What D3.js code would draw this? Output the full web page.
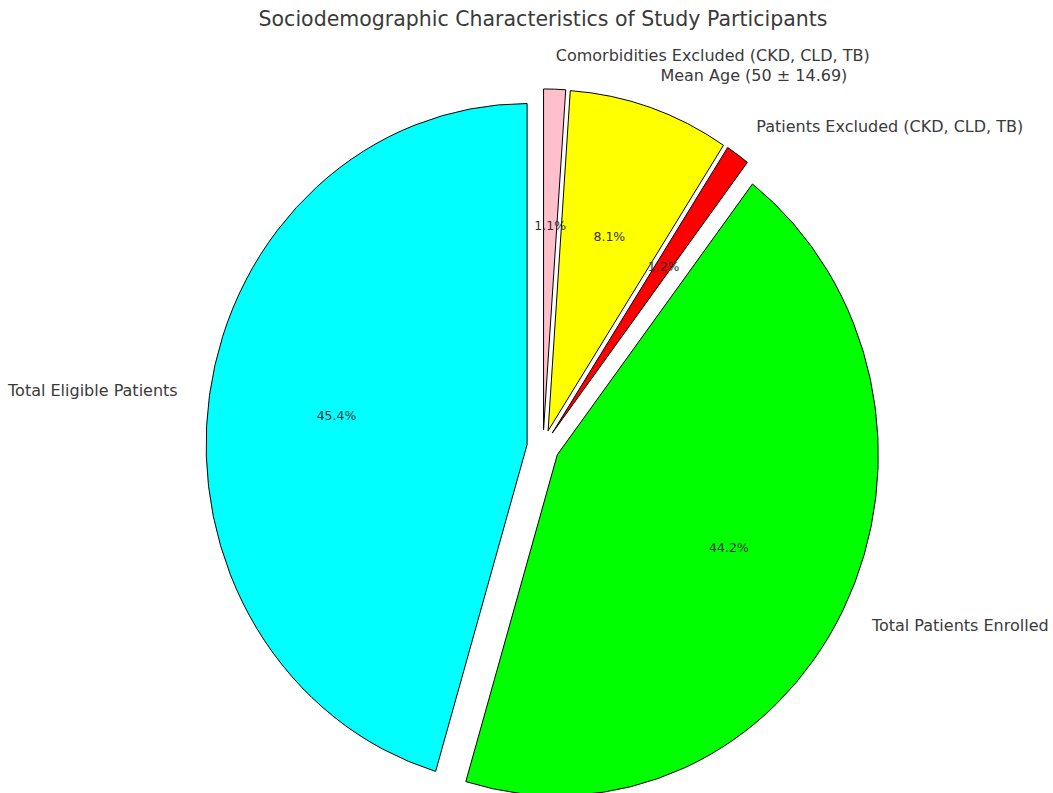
<!DOCTYPE html>
<html>
<head>
<meta charset="utf-8">
<script src="https://cdn.jsdelivr.net/npm/d3@7"></script>
<style>
  html, body { margin: 0; padding: 0; background: #fff; }
  svg { display: block; }
  text { font-family: "DejaVu Sans", sans-serif; }
</style>
</head>
<body>
<svg id="chart" width="1053" height="793"></svg>
<script>
// ---- data ----
const categories = [
  "Total Eligible Patients",
  "Total Patients Enrolled",
  "Patients Excluded (CKD, CLD, TB)",
  "Mean Age (50 ± 14.69)",
  "Comorbidities Excluded (CKD, CLD, TB)"
];
const values = [45.4, 44.2, 1.2, 8.1, 1.1];
const colors = ["#00ffff", "#00ff00", "#ff0000", "#ffff00", "#ffc0cb"];
const explode = [0.05, 0.05, 0.05, 0.05, 0.05];
const title = "Sociodemographic Characteristics of Study Participants";

// ---- layout ----
const W = 1053, H = 793;
const cx = 543, cy = 447;
const rx = 321, ry = 341;
const k = ry / rx;

const svg = d3.select("#chart");

svg.append("text")
  .attr("x", cx).attr("y", 19)
  .attr("text-anchor", "middle")
  .attr("dominant-baseline", "central")
  .attr("font-size", 20.5)
  .attr("fill", "#3a3a3a")
  .text(title);

const total = d3.sum(values);
const pie = d3.pie().sort(null).value(d => d)
  .startAngle(0).endAngle(-2 * Math.PI);
const arcsRaw = pie(values);
// matplotlib: counterclockwise from top
const arcs = arcsRaw.map((a, i) => ({
  i, value: a.value,
  startAngle: Math.min(a.startAngle, a.endAngle),
  endAngle: Math.max(a.startAngle, a.endAngle)
}));

const arc = d3.arc().innerRadius(0).outerRadius(rx);
const g = svg.append("g");

arcs.forEach(a => {
  const mid = (a.startAngle + a.endAngle) / 2;
  const ux = Math.sin(mid), uy = -Math.cos(mid);
  const ox = cx + explode[a.i] * rx * ux;
  const oy = cy + explode[a.i] * ry * uy;
  g.append("path")
    .attr("d", arc(a))
    .attr("transform", `translate(${ox},${oy}) scale(1,${k})`)
    .attr("fill", colors[a.i])
    .attr("stroke", "#000")
    .attr("stroke-width", 1)
    .attr("vector-effect", "non-scaling-stroke")
    .attr("stroke-linejoin", "round");

  // outside label
  const lx = ox + 1.1 * rx * ux;
  const ly = oy + 1.1 * ry * uy;
  svg.append("text")
    .attr("x", lx).attr("y", ly)
    .attr("text-anchor", ux > 0 ? "start" : "end")
    .attr("dominant-baseline", "central")
    .attr("font-size", 16)
    .attr("fill", "#3a3a3a")
    .text(categories[a.i]);

  // percent label
  const px = ox + 0.6 * rx * ux;
  const py = oy + 0.6 * ry * uy;
  svg.append("text")
    .attr("x", px).attr("y", py)
    .attr("text-anchor", "middle")
    .attr("dominant-baseline", "central")
    .attr("font-size", 12.5)
    .attr("fill", "#333")
    .text((a.value / total * 100).toFixed(1) + "%");
});
</script>
</body>
</html>
